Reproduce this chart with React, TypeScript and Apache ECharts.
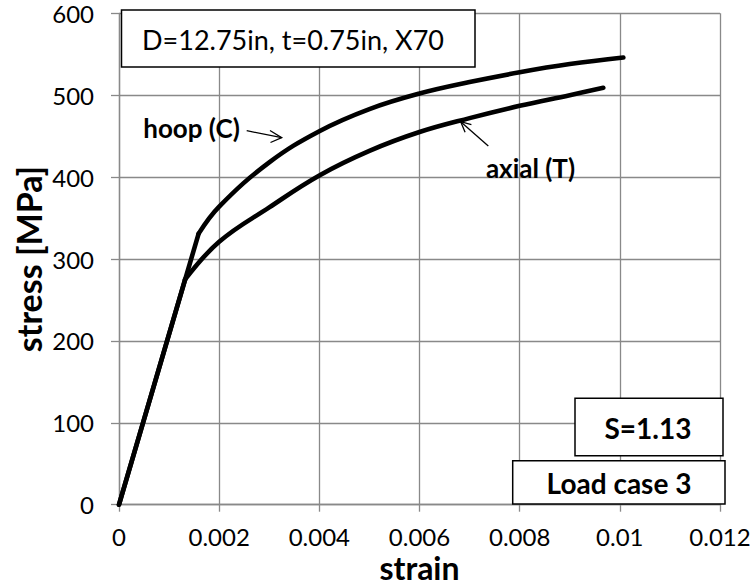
import React, { useEffect, useRef } from "react";
import * as echarts from "echarts";

const hoopStrain = [0, 0.00159, 0.002, 0.003, 0.004, 0.005, 0.006, 0.007, 0.008, 0.009, 0.01007];
const hoopStress = [0, 331, 364, 418, 456, 483, 502, 516, 528, 538, 546];
const axialStrain = [0, 0.00132, 0.002, 0.003, 0.004, 0.005, 0.006, 0.007, 0.008, 0.009, 0.00967];
const axialStress = [0, 275, 321, 363, 402, 432, 455, 472, 487, 500, 509];

const xTicks = [0, 0.002, 0.004, 0.006, 0.008, 0.01, 0.012];
const yTicks = [0, 100, 200, 300, 400, 500, 600];

const FONT = "Lato";
const GRID_COLOR = "#898989";

function pairs(xs: number[], ys: number[], from: number, to: number) {
  const out: number[][] = [];
  for (let i = from; i <= to; i++) out.push([xs[i], ys[i]]);
  return out;
}

export default function App() {
  const ref = useRef<HTMLDivElement>(null);
  useEffect(() => {
    if (!ref.current) return;
    const chart = echarts.init(ref.current, null, { renderer: "svg" });
    const lineStyle = { color: "#000", width: 4.6, cap: "round", join: "round" };
    const mk = (name: string, data: number[][], smooth: boolean | number) => ({
      type: "line",
      name,
      data,
      showSymbol: false,
      symbol: "none",
      smooth,
      lineStyle,
      silent: true,
      z: 3,
    });
    const hn = hoopStrain.length - 1;
    const an = axialStrain.length - 1;
    chart.setOption({
      animation: false,
      backgroundColor: "#fff",
      grid: {
        left: 119,
        right: 31,
        top: 13.3,
        bottom: 83.3,
        containLabel: false,
        outerBoundsMode: "none",
      },
      xAxis: {
        type: "value",
        min: xTicks[0],
        max: xTicks[xTicks.length - 1],
        interval: 0.002,
        name: "strain",
        nameLocation: "middle",
        nameGap: 48,
        nameMoveOverlap: false,
        nameTextStyle: { fontFamily: FONT, fontWeight: "bold", fontSize: 32, lineHeight: 30, color: "#000" },
        axisLine: { show: true, onZero: false, lineStyle: { color: GRID_COLOR, width: 1.3 } },
        axisTick: { show: true, inside: false, length: 7, lineStyle: { color: GRID_COLOR, width: 1.3 } },
        axisLabel: {
          margin: 20,
          fontFamily: FONT,
          fontSize: 24,
          lineHeight: 24,
          color: "#000",
          formatter: (v: number) => String(parseFloat(v.toFixed(4))),
        },
        splitLine: { show: true, lineStyle: { color: GRID_COLOR, width: 1.3 } },
      },
      yAxis: {
        type: "value",
        min: yTicks[0],
        max: yTicks[yTicks.length - 1],
        interval: 100,
        name: "stress [MPa]",
        nameLocation: "middle",
        nameGap: 74,
        nameMoveOverlap: false,
        nameTextStyle: { fontFamily: FONT, fontWeight: "bold", fontSize: 34, color: "#000" },
        axisLine: { show: true, onZero: false, lineStyle: { color: GRID_COLOR, width: 1.3 } },
        axisTick: { show: true, inside: false, length: 8, lineStyle: { color: GRID_COLOR, width: 1.3 } },
        axisLabel: { margin: 25, fontFamily: FONT, fontSize: 24, color: "#000" },
        splitLine: { show: true, lineStyle: { color: GRID_COLOR, width: 1.3 } },
      },
      series: [
        mk("hoop elastic", pairs(hoopStrain, hoopStress, 0, 1), false),
        mk("hoop (C)", pairs(hoopStrain, hoopStress, 1, hn), 0.4),
        mk("axial elastic", pairs(axialStrain, axialStress, 0, 1), false),
        mk("axial (T)", pairs(axialStrain, axialStress, 1, an), 0.4),
      ],
      graphic: [
        {
          type: "rect",
          shape: { x: 121.5, y: 10, width: 353.5, height: 57 },
          style: { fill: "#fff", stroke: "#000", lineWidth: 1.5 },
          z: 10,
        },
        {
          type: "text",
          x: 293,
          y: 39,
          style: {
            text: "D=12.75in, t=0.75in, X70",
            fontFamily: FONT,
            fontSize: 27,
            fill: "#000",
            align: "center",
            verticalAlign: "middle",
          },
          z: 11,
        },
        {
          type: "text",
          x: 191.5,
          y: 128,
          style: {
            text: "hoop (C)",
            fontFamily: FONT,
            fontWeight: "bold",
            fontSize: 26,
            fill: "#000",
            align: "center",
            verticalAlign: "middle",
          },
          z: 11,
        },
        {
          type: "line",
          shape: { x1: 246.7, y1: 130.7, x2: 281.7, y2: 137.7 },
          style: { stroke: "#000", lineWidth: 1.3 },
          z: 11,
        },
        {
          type: "polyline",
          shape: { points: [[270, 130.5], [281.7, 137.7], [270.5, 142.5]] },
          style: { stroke: "#000", lineWidth: 1.3, fill: "none" },
          z: 11,
        },
        {
          type: "text",
          x: 530.5,
          y: 168,
          style: {
            text: "axial (T)",
            fontFamily: FONT,
            fontWeight: "bold",
            fontSize: 26,
            fill: "#000",
            align: "center",
            verticalAlign: "middle",
          },
          z: 11,
        },
        {
          type: "line",
          shape: { x1: 488.3, y1: 146, x2: 460.7, y2: 121.7 },
          style: { stroke: "#000", lineWidth: 1.3 },
          z: 11,
        },
        {
          type: "polyline",
          shape: { points: [[465.1, 132.3], [460.7, 121.7], [471.4, 124.6]] },
          style: { stroke: "#000", lineWidth: 1.3, fill: "none" },
          z: 11,
        },
        {
          type: "rect",
          shape: { x: 575, y: 398.3, width: 148, height: 57.4 },
          style: { fill: "#fff", stroke: "#000", lineWidth: 1.5 },
          z: 10,
        },
        {
          type: "text",
          x: 648,
          y: 428,
          style: {
            text: "S=1.13",
            fontFamily: FONT,
            fontWeight: "bold",
            fontSize: 28,
            fill: "#000",
            align: "center",
            verticalAlign: "middle",
          },
          z: 11,
        },
        {
          type: "rect",
          shape: { x: 512.7, y: 460.7, width: 212.3, height: 43.3 },
          style: { fill: "#fff", stroke: "#000", lineWidth: 1.5 },
          z: 10,
        },
        {
          type: "text",
          x: 619,
          y: 483,
          style: {
            text: "Load case 3",
            fontFamily: FONT,
            fontWeight: "bold",
            fontSize: 28,
            fill: "#000",
            align: "center",
            verticalAlign: "middle",
          },
          z: 11,
        },
      ],
    });
    return () => chart.dispose();
  }, []);
  return (
    <div
      ref={ref}
      style={{ position: "fixed", left: 0, top: 0, width: 751, height: 588, background: "#fff" }}
    />
  );
}
